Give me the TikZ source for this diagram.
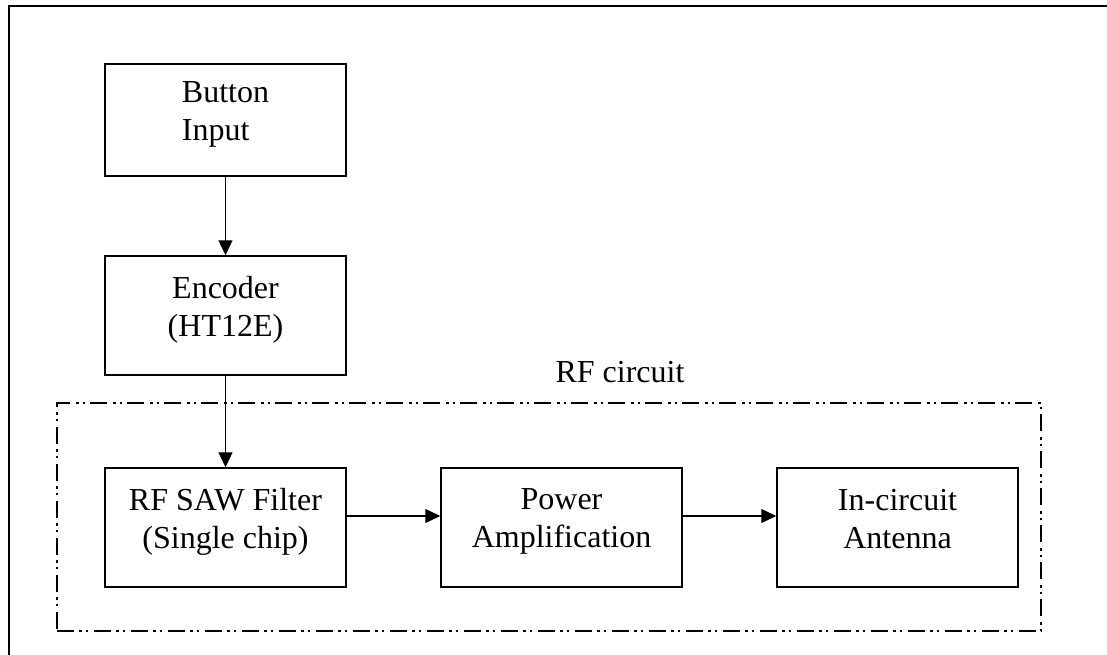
\documentclass[tikz,border=0pt]{standalone}
\usepackage{fontspec}
\setmainfont{Liberation Serif}
\usetikzlibrary{positioning,arrows.meta}

\begin{document}
\begin{tikzpicture}[x=1pt,y=-1pt,node distance=336pt,on grid,
    block/.style={draw,line width=1.5pt,minimum width=241pt,minimum height=119pt,
        align=center,text depth=18pt,font=\fontsize{32}{38}\selectfont},
    flow/.style={line width=1.3pt,-{Triangle[length=15pt,width=14pt]}}]
    \useasboundingbox (0,0) rectangle (1107,655);
    \draw[line width=2pt] (1115,6) -- (9,6) -- (9,665);

    \node[block,minimum height=112pt,align=left] (button) at (225.5,120) {Button\\Input};
    \node[block] (encoder) [below=195.5pt of button] {Encoder\\(HT12E)};
    \node[block] (filter) [below=212pt of encoder] {RF SAW Filter\\(Single chip)};
    \node[block] (power) [right=of filter] {Power\\Amplification};
    \node[block] (antenna) [right=of power] {In-circuit\\Antenna};

    % dash-dot-dot frame round the RF part
    \node[draw,line width=1.5pt,minimum width=984pt,minimum height=228pt,
        dash pattern=on 17pt off 5pt on 2.5pt off 4pt on 2.5pt off 6pt] (rfzone) at (549,517) {};
    \node[anchor=base,font=\fontsize{32}{38}\selectfont] (rflabel)
        at ([xshift=71pt,yshift=20pt]rfzone.north) {RF circuit};

    \draw[flow] (button) -- (encoder);
    \draw[flow] (encoder) -- (filter);
    \draw[flow] ([yshift=11.5pt]filter.east) -- ([yshift=11.5pt]power.west);
    \draw[flow] ([yshift=11.5pt]power.east) -- ([yshift=11.5pt]antenna.west);
\end{tikzpicture}
\end{document}
